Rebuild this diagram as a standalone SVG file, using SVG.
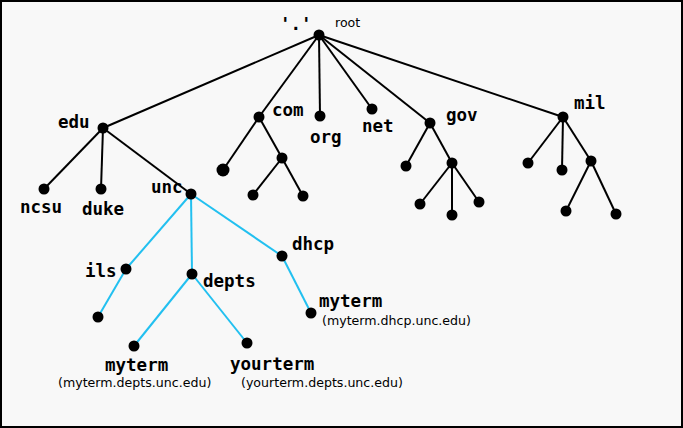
<svg xmlns="http://www.w3.org/2000/svg" width="683" height="428" viewBox="0 0 683 428">
<style>
.e{stroke:#000;stroke-width:2;fill:none}
.b{stroke:#22c0f0;stroke-width:2;fill:none}
.n{fill:#000}
.l{font-family:"DejaVu Sans Mono","Liberation Mono",monospace;font-weight:bold;font-size:17.5px;fill:#000}
.s{font-family:"DejaVu Sans","Liberation Sans",sans-serif;font-size:12.6px;fill:#000}
</style>
<rect x="1" y="1" width="681" height="426" fill="#f8f8f8" stroke="#000" stroke-width="2"/>
<g id="connectors">
<g class="e">
<line x1="319" y1="35" x2="103" y2="128"/>
<line x1="319" y1="35" x2="259" y2="117"/>
<line x1="319" y1="35" x2="320" y2="116"/>
<line x1="319" y1="35" x2="372" y2="109"/>
<line x1="319" y1="35" x2="430" y2="123"/>
<line x1="319" y1="35" x2="563" y2="117"/>
<line x1="103" y1="128" x2="44" y2="189"/>
<line x1="103" y1="128" x2="101" y2="189"/>
<line x1="103" y1="128" x2="191" y2="194"/>
<line x1="259" y1="117" x2="223" y2="170"/>
<line x1="259" y1="117" x2="282" y2="158"/>
<line x1="282" y1="158" x2="253" y2="195"/>
<line x1="282" y1="158" x2="303" y2="196"/>
<line x1="430" y1="123" x2="406" y2="166"/>
<line x1="430" y1="123" x2="452" y2="163"/>
<line x1="452" y1="163" x2="420" y2="204"/>
<line x1="452" y1="163" x2="452" y2="215"/>
<line x1="452" y1="163" x2="479" y2="202"/>
<line x1="563" y1="117" x2="528" y2="163"/>
<line x1="563" y1="117" x2="562" y2="170"/>
<line x1="563" y1="117" x2="591" y2="161"/>
<line x1="591" y1="161" x2="566" y2="211"/>
<line x1="591" y1="161" x2="616" y2="214"/>
</g>
<g class="b">
<line x1="191" y1="194" x2="126" y2="269"/>
<line x1="191" y1="194" x2="192" y2="274"/>
<line x1="191" y1="194" x2="282" y2="256"/>
<line x1="126" y1="269" x2="98" y2="317"/>
<line x1="192" y1="274" x2="134" y2="346"/>
<line x1="192" y1="274" x2="247" y2="343"/>
<line x1="282" y1="256" x2="311" y2="313"/>
</g>
</g>
<g id="root"><circle class="n" cx="319" cy="35" r="5.5"/><text class="l" x="280" y="30">'.'</text><text class="s" x="335" y="27">root</text></g>
<g id="edu"><circle class="n" cx="103" cy="128" r="5.5"/><text class="l" x="58" y="128">edu</text></g>
<g id="ncsu"><circle class="n" cx="44" cy="189" r="5.5"/><text class="l" x="20" y="213">ncsu</text></g>
<g id="duke"><circle class="n" cx="101" cy="189" r="5.5"/><text class="l" x="82" y="215">duke</text></g>
<g id="unc"><circle class="n" cx="191" cy="194" r="5.5"/><text class="l" x="151" y="193">unc</text></g>
<g id="com"><circle class="n" cx="259" cy="117" r="5.5"/><text class="l" x="272" y="116">com</text></g>
<g id="com-a"><circle class="n" cx="223" cy="170" r="6.5"/></g>
<g id="com-b"><circle class="n" cx="282" cy="158" r="5.5"/></g>
<g id="com-b1"><circle class="n" cx="253" cy="195" r="5.5"/></g>
<g id="com-b2"><circle class="n" cx="303" cy="196" r="5.5"/></g>
<g id="org"><circle class="n" cx="320" cy="116" r="5.5"/><text class="l" x="310" y="143">org</text></g>
<g id="net"><circle class="n" cx="372" cy="109" r="5.5"/><text class="l" x="362" y="132">net</text></g>
<g id="gov"><circle class="n" cx="430" cy="123" r="5.5"/><text class="l" x="446" y="121">gov</text></g>
<g id="gov-a"><circle class="n" cx="406" cy="166" r="5.5"/></g>
<g id="gov-b"><circle class="n" cx="452" cy="163" r="5.5"/></g>
<g id="gov-b1"><circle class="n" cx="420" cy="204" r="5.5"/></g>
<g id="gov-b2"><circle class="n" cx="452" cy="215" r="5.5"/></g>
<g id="gov-b3"><circle class="n" cx="479" cy="202" r="5.5"/></g>
<g id="mil"><circle class="n" cx="563" cy="117" r="5.5"/><text class="l" x="574" y="109">mil</text></g>
<g id="mil-a"><circle class="n" cx="528" cy="163" r="5.5"/></g>
<g id="mil-b"><circle class="n" cx="562" cy="170" r="5.5"/></g>
<g id="mil-c"><circle class="n" cx="591" cy="161" r="5.5"/></g>
<g id="mil-c1"><circle class="n" cx="566" cy="211" r="5.5"/></g>
<g id="mil-c2"><circle class="n" cx="616" cy="214" r="5.5"/></g>
<g id="ils"><circle class="n" cx="126" cy="269" r="5.5"/><text class="l" x="85" y="277">ils</text></g>
<g id="ils-a"><circle class="n" cx="98" cy="317" r="5.5"/></g>
<g id="depts"><circle class="n" cx="192" cy="274" r="5.5"/><text class="l" x="203" y="287">depts</text></g>
<g id="dhcp"><circle class="n" cx="282" cy="256" r="5.5"/><text class="l" x="292" y="250">dhcp</text></g>
<g id="myterm-dhcp"><circle class="n" cx="311" cy="313" r="5.5"/><text class="l" x="319" y="307">myterm</text><text class="s" x="322" y="325">(myterm.dhcp.unc.edu)</text></g>
<g id="myterm-depts"><circle class="n" cx="134" cy="346" r="5.5"/><text class="l" x="105" y="371">myterm</text><text class="s" x="58" y="387">(myterm.depts.unc.edu)</text></g>
<g id="yourterm"><circle class="n" cx="247" cy="343" r="5.5"/><text class="l" x="230" y="370">yourterm</text><text class="s" x="241" y="387">(yourterm.depts.unc.edu)</text></g>
</svg>
